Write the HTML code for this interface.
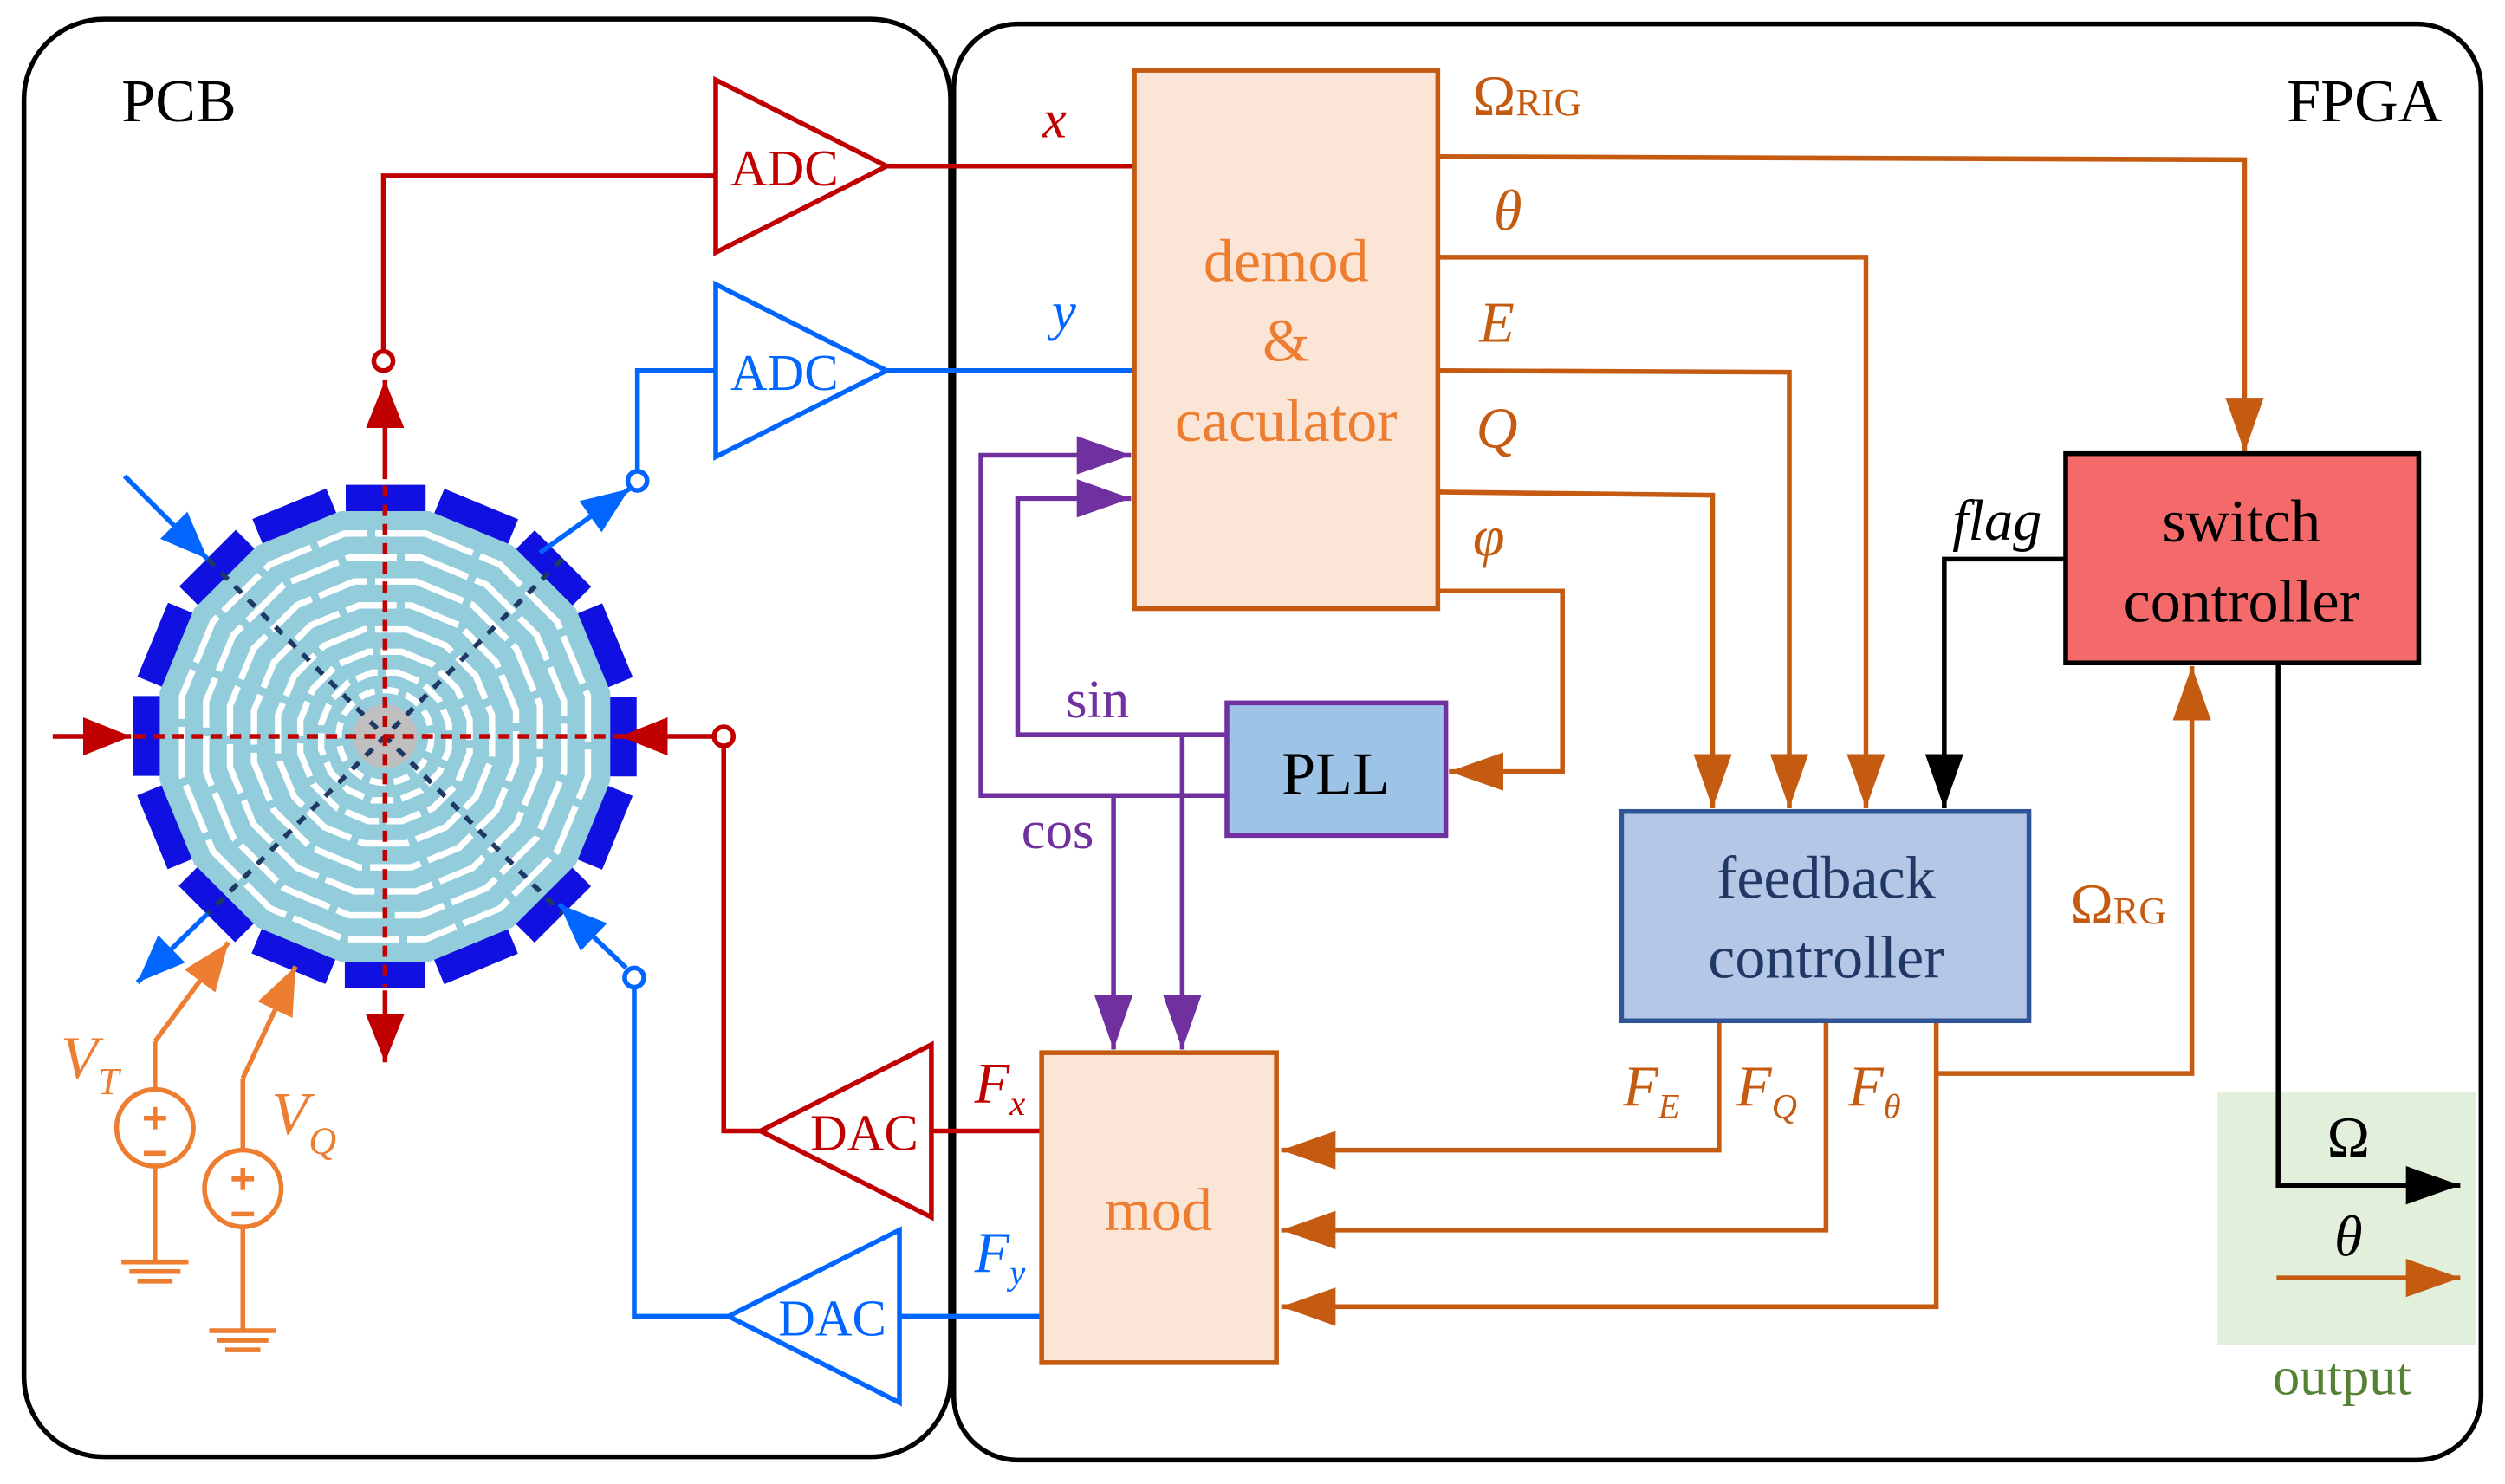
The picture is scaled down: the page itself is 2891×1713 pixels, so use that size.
<!DOCTYPE html>
<html><head><meta charset="utf-8"><style>html,body{margin:0;padding:0;background:#fff;}svg{display:block}</style></head>
<body>
<svg width="2891" height="1713" viewBox="0 0 1568 929" preserveAspectRatio="none" xmlns="http://www.w3.org/2000/svg" font-family="'Liberation Serif', serif">
<defs>
<marker id="mo" markerUnits="userSpaceOnUse" markerWidth="40" markerHeight="40" refX="34" refY="12" orient="auto"><path d="M0,0 L34,12 L0,24 z" fill="#c55a11"/></marker>
<marker id="mr" markerUnits="userSpaceOnUse" markerWidth="40" markerHeight="40" refX="30" refY="12" orient="auto"><path d="M0,0 L30,12 L0,24 z" fill="#c00000"/></marker>
<marker id="mb" markerUnits="userSpaceOnUse" markerWidth="40" markerHeight="40" refX="30" refY="12" orient="auto"><path d="M0,0 L30,12 L0,24 z" fill="#0066ff"/></marker>
<marker id="mp" markerUnits="userSpaceOnUse" markerWidth="40" markerHeight="40" refX="34" refY="12" orient="auto"><path d="M0,0 L34,12 L0,24 z" fill="#7030a0"/></marker>
<marker id="mk" markerUnits="userSpaceOnUse" markerWidth="40" markerHeight="40" refX="34" refY="12" orient="auto"><path d="M0,0 L34,12 L0,24 z" fill="#000"/></marker>
<marker id="ma" markerUnits="userSpaceOnUse" markerWidth="40" markerHeight="40" refX="30" refY="12" orient="auto"><path d="M0,0 L30,12 L0,24 z" fill="#ed7d31"/></marker>
</defs>

<!-- outer boxes -->
<rect x="15" y="12" width="580" height="900" rx="50" fill="none" stroke="#000" stroke-width="3"/>
<rect x="597" y="15" width="956" height="899" rx="40" fill="none" stroke="#000" stroke-width="3"/>
<text x="112" y="76" font-size="38" text-anchor="middle">PCB</text>
<text x="1480" y="76" font-size="38" text-anchor="middle">FPGA</text>

<!-- output area -->
<rect x="1388" y="684" width="162" height="158" fill="#e2efda"/>
<text x="1466" y="873" font-size="34" fill="#548235" text-anchor="middle">output</text>

<!-- gyro -->
<polygon points="270.6,312 325.4,334.7 367.3,376.6 390,431.4 390,490.6 367.3,545.4 325.4,587.3 270.6,610 211.4,610 156.6,587.3 114.7,545.4 92,490.6 92,431.4 114.7,376.6 156.6,334.7 211.4,312" fill="none" stroke="#1010e0" stroke-width="17" stroke-dasharray="50 9.3" stroke-dashoffset="54.65"/>
<polygon points="269,320 320.9,341.5 360.5,381.1 382,433 382,489 360.5,540.9 320.9,580.5 269,602 213,602 161.1,580.5 121.5,540.9 100,489 100,433 121.5,381.1 161.1,341.5 213,320" fill="#93cddb"/>
<g fill="none" stroke="#fff" stroke-width="4" stroke-dasharray="32 5">
<polygon points="266.3,334 312.9,353.3 348.7,389.1 368,435.7 368,486.3 348.7,532.9 312.9,568.7 266.3,588 215.7,588 169.1,568.7 133.3,532.9 114,486.3 114,435.7 133.3,389.1 169.1,353.3 215.7,334"/>
<polygon points="263.3,349 304.4,366 336,397.6 353,438.7 353,483.3 336,524.4 304.4,556 263.3,573 218.7,573 177.6,556 146,524.4 129,483.3 129,438.7 146,397.6 177.6,366 218.7,349"/>
<polygon points="260.3,364 296,378.8 323.2,406 338,441.7 338,480.3 323.2,516 296,543.2 260.3,558 221.7,558 186,543.2 158.8,516 144,480.3 144,441.7 158.8,406 186,378.8 221.7,364"/>
<polygon points="257.3,379 287.5,391.5 310.5,414.5 323,444.7 323,477.3 310.5,507.5 287.5,530.5 257.3,543 224.7,543 194.5,530.5 171.5,507.5 159,477.3 159,444.7 171.5,414.5 194.5,391.5 224.7,379"/>
<polygon points="254.3,394 279,404.2 297.8,423 308,447.7 308,474.3 297.8,499 279,517.8 254.3,528 227.7,528 203,517.8 184.2,499 174,474.3 174,447.7 184.2,423 203,404.2 227.7,394"/>
<polygon points="251.5,408 271,416.1 285.9,431 294,450.5 294,471.5 285.9,491 271,505.9 251.5,514 230.5,514 211,505.9 196.1,491 188,471.5 188,450.5 196.1,431 211,416.1 230.5,408" stroke-dasharray="22 5"/>
<polygon points="249,421 263.7,427.1 274.9,438.3 281,453 281,469 274.9,483.7 263.7,494.9 249,501 233,501 218.3,494.9 207.1,483.7 201,469 201,453 207.1,438.3 218.3,427.1 233,421" stroke-dasharray="14 5"/>
<circle cx="241" cy="461" r="29" stroke-dasharray="10 5"/>
</g>
<circle cx="241" cy="461" r="20" fill="#bfbfbf"/>
<g stroke="#1f3864" stroke-width="3" stroke-dasharray="6 6">
 <line x1="130" y1="350" x2="352" y2="572"/>
 <line x1="352" y1="350" x2="130" y2="572"/>
</g>
<g stroke="#c00000" stroke-width="3" stroke-dasharray="7 5">
 <line x1="84" y1="461" x2="398" y2="461"/>
 <line x1="241" y1="304" x2="241" y2="618"/>
</g>

<!-- red x path -->
<g stroke="#c00000" stroke-width="3" fill="none">
 <polygon points="448,50 448,158 555,104" fill="#fff"/>
 <polyline points="448,110 240,110 240,220"/>
 <line x1="241" y1="300" x2="241" y2="238" marker-end="url(#mr)"/>
 <line x1="241" y1="620" x2="241" y2="665" marker-end="url(#mr)"/>
 <line x1="33" y1="461" x2="82" y2="461" marker-end="url(#mr)"/>
 <line x1="447" y1="461" x2="388" y2="461" marker-end="url(#mr)"/>
 <circle cx="240" cy="226" r="6" fill="#fff"/>
 <circle cx="453" cy="461" r="6" fill="#fff"/>
 <polyline points="476,708 453,708 453,467"/>
 <polygon points="583,654 583,762 476,708" fill="#fff"/>
 <line x1="555" y1="104" x2="710" y2="104"/>
 <line x1="583" y1="708" x2="652" y2="708"/>
</g>
<text x="491" y="116" font-size="32" fill="#c00000" text-anchor="middle">ADC</text>
<text x="541" y="720" font-size="32" fill="#c00000" text-anchor="middle">DAC</text>
<text x="660" y="86" font-size="34" fill="#c00000" font-style="italic" text-anchor="middle">x</text>
<text x="610" y="690" font-size="36" fill="#c00000" font-style="italic">F<tspan font-size="22" dy="8">x</tspan></text>

<!-- blue y path -->
<g stroke="#0066ff" stroke-width="3" fill="none">
 <polygon points="448,178 448,286 555,232" fill="#fff"/>
 <polyline points="448,232 399,232 399,295"/>
 <circle cx="399" cy="301" r="6" fill="#fff"/>
 <line x1="338" y1="346" x2="394" y2="306" marker-end="url(#mb)"/>
 <line x1="78" y1="298" x2="130" y2="350" marker-end="url(#mb)"/>
 <line x1="130" y1="572" x2="86" y2="615" marker-end="url(#mb)"/>
 <line x1="392" y1="606" x2="350" y2="566" marker-end="url(#mb)"/>
 <circle cx="397" cy="612" r="6" fill="#fff"/>
 <polyline points="456,824 397,824 397,618"/>
 <polygon points="563,770 563,878 456,824" fill="#fff"/>
 <line x1="555" y1="232" x2="710" y2="232"/>
 <line x1="563" y1="824" x2="652" y2="824"/>
</g>
<text x="491" y="244" font-size="32" fill="#0066ff" text-anchor="middle">ADC</text>
<text x="521" y="836" font-size="32" fill="#0066ff" text-anchor="middle">DAC</text>
<text x="666" y="206" font-size="34" fill="#0066ff" font-style="italic" text-anchor="middle">y</text>
<text x="610" y="796" font-size="36" fill="#0066ff" font-style="italic">F<tspan font-size="22" dy="8">y</tspan></text>

<!-- voltage sources -->
<g stroke="#ed7d31" stroke-width="3" fill="none">
 <polyline points="97,682 97,652"/>
 <line x1="97" y1="652" x2="143" y2="590" marker-end="url(#ma)"/>
 <circle cx="97" cy="706" r="24"/>
 <line x1="97" y1="730" x2="97" y2="790"/>
 <line x1="76" y1="790" x2="118" y2="790"/><line x1="81" y1="796" x2="113" y2="796"/><line x1="86" y1="802" x2="108" y2="802"/>
 <line x1="152" y1="720" x2="152" y2="675"/>
 <line x1="152" y1="675" x2="185" y2="605" marker-end="url(#ma)"/>
 <circle cx="152" cy="744" r="24"/>
 <line x1="152" y1="768" x2="152" y2="833"/>
 <line x1="131" y1="833" x2="173" y2="833"/><line x1="136" y1="839" x2="168" y2="839"/><line x1="141" y1="845" x2="163" y2="845"/>
 <line x1="90" y1="700" x2="104" y2="700"/><line x1="97" y1="693" x2="97" y2="707"/><line x1="90" y1="722" x2="104" y2="722"/>
 <line x1="145" y1="738" x2="159" y2="738"/><line x1="152" y1="731" x2="152" y2="745"/><line x1="145" y1="760" x2="159" y2="760"/>
</g>
<text x="38" y="675" font-size="38" fill="#ed7d31" font-style="italic">V<tspan font-size="24" dy="10">T</tspan></text>
<text x="170" y="710" font-size="38" fill="#ed7d31" font-style="italic">V<tspan font-size="24" dy="12">Q</tspan></text>

<!-- demod -->
<rect x="710" y="44" width="190" height="337" fill="#fbe5d6" stroke="#c55a11" stroke-width="3"/>
<g font-size="38" fill="#ed7d31" text-anchor="middle">
 <text x="805" y="176">demod</text><text x="805" y="226">&amp;</text><text x="805" y="276">caculator</text>
</g>

<!-- orange outputs -->
<g stroke="#c55a11" stroke-width="3" fill="none">
 <polyline points="900,98 1405,100 1405,283" marker-end="url(#mo)"/>
 <polyline points="900,161 1168,161 1168,506" marker-end="url(#mo)"/>
 <polyline points="900,232 1120,233 1120,506" marker-end="url(#mo)"/>
 <polyline points="900,308 1072,310 1072,506" marker-end="url(#mo)"/>
 <polyline points="900,370 978,370 978,483 907,483" marker-end="url(#mo)"/>
 <polyline points="1076,639 1076,720 802,720" marker-end="url(#mo)"/>
 <polyline points="1143,639 1143,770 802,770" marker-end="url(#mo)"/>
 <polyline points="1212,639 1212,818 802,818" marker-end="url(#mo)"/>
 <polyline points="1212,672 1372,672 1372,417" marker-end="url(#mo)"/>
 <line x1="1425" y1="800" x2="1540" y2="800" marker-end="url(#mo)"/>
</g>
<g fill="#c55a11" font-size="36" font-style="italic">
 <text x="922" y="72" font-style="normal">Ω<tspan font-size="24">RIG</tspan></text>
 <text x="935" y="144">θ</text>
 <text x="926" y="214">E</text>
 <text x="924" y="280">Q</text>
 <text x="922" y="348">φ</text>
 <text x="1296" y="578" font-style="normal">Ω<tspan font-size="24">RG</tspan></text>
 <text x="1016" y="692">F<tspan font-size="22" dy="8">E</tspan></text>
 <text x="1087" y="692">F<tspan font-size="22" dy="8">Q</tspan></text>
 <text x="1157" y="692">F<tspan font-size="22" dy="8">θ</tspan></text>
</g>

<!-- PLL & purple -->
<rect x="768" y="440" width="137" height="83" fill="#9dc3e6" stroke="#7030a0" stroke-width="3"/>
<text x="836" y="497" font-size="38" text-anchor="middle">PLL</text>
<g stroke="#7030a0" stroke-width="3" fill="none">
 <polyline points="768,460 637,460 637,312 708,312" marker-end="url(#mp)"/>
 <polyline points="768,498 614,498 614,285 708,285" marker-end="url(#mp)"/>
 <polyline points="697,498 697,657" marker-end="url(#mp)"/>
 <polyline points="740,460 740,657" marker-end="url(#mp)"/>
</g>
<text x="687" y="449" font-size="34" fill="#7030a0" text-anchor="middle">sin</text>
<text x="662" y="531" font-size="34" fill="#7030a0" text-anchor="middle">cos</text>

<!-- mod -->
<rect x="652" y="659" width="147" height="194" fill="#fbe5d6" stroke="#c55a11" stroke-width="3"/>
<text x="725" y="770" font-size="38" fill="#ed7d31" text-anchor="middle">mod</text>

<!-- feedback -->
<rect x="1015" y="508" width="255" height="131" fill="#b4c7e7" stroke="#2f5597" stroke-width="3"/>
<text x="1143" y="562" font-size="38" fill="#1f3864" text-anchor="middle">feedback</text>
<text x="1143" y="612" font-size="38" fill="#1f3864" text-anchor="middle">controller</text>

<!-- switch -->
<rect x="1293" y="284" width="221" height="131" fill="#f4696a" stroke="#000" stroke-width="3"/>
<text x="1403" y="339" font-size="38" text-anchor="middle">switch</text>
<text x="1403" y="389" font-size="38" text-anchor="middle">controller</text>
<g stroke="#000" stroke-width="3" fill="none">
 <polyline points="1293,350 1217,350 1217,506" marker-end="url(#mk)"/>
 <polyline points="1426,415 1426,742 1540,742" marker-end="url(#mk)"/>
</g>
<text x="1250" y="338" font-size="36" font-style="italic" text-anchor="middle">flag</text>
<text x="1470" y="724" font-size="36" text-anchor="middle">Ω</text>
<text x="1470" y="786" font-size="36" font-style="italic" text-anchor="middle">θ</text>
</svg>
</body></html>
